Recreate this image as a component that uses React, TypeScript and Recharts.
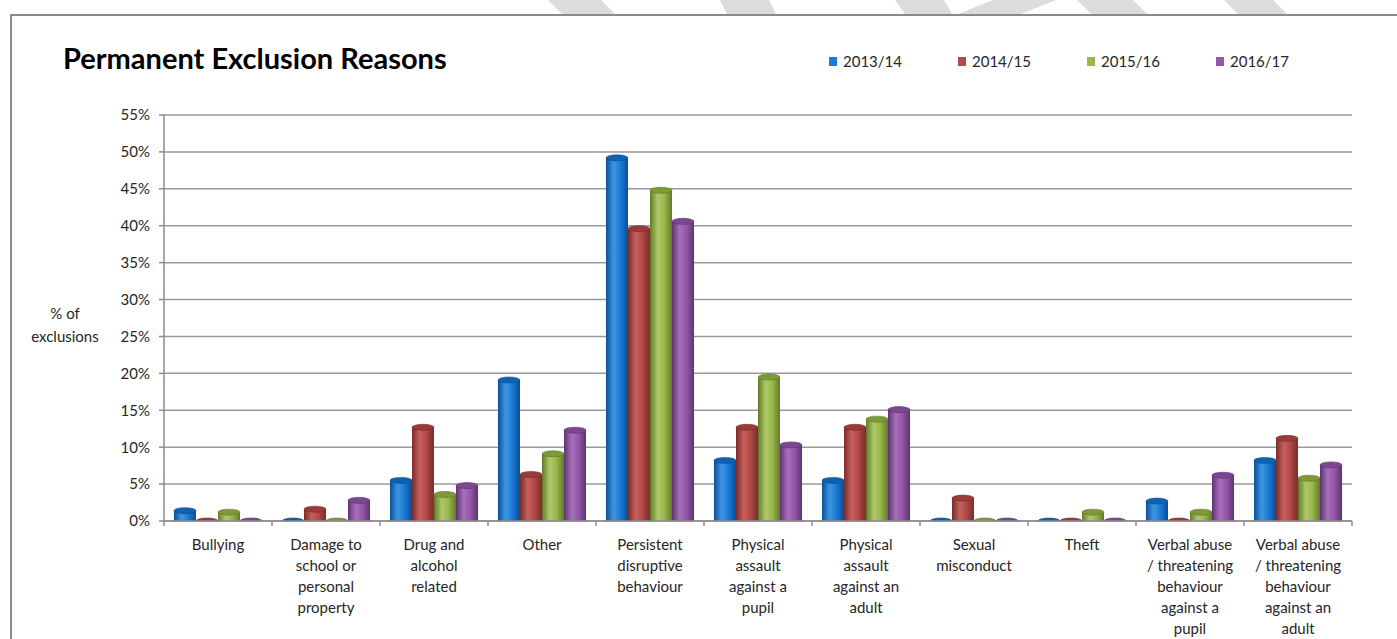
import React from "react";
import { BarChart, Bar, XAxis, YAxis, CartesianGrid } from "recharts";

const categories = [
  "Bullying",
  "Damage to school or personal property",
  "Drug and alcohol related",
  "Other",
  "Persistent disruptive behaviour",
  "Physical assault against a pupil",
  "Physical assault against an adult",
  "Sexual misconduct",
  "Theft",
  "Verbal abuse / threatening behaviour against a pupil",
  "Verbal abuse / threatening behaviour against an adult",
];

// how each category label wraps under the axis
const tickLines = [
  ["Bullying"],
  ["Damage to", "school or", "personal", "property"],
  ["Drug and", "alcohol", "related"],
  ["Other"],
  ["Persistent", "disruptive", "behaviour"],
  ["Physical", "assault", "against a", "pupil"],
  ["Physical", "assault", "against an", "adult"],
  ["Sexual", "misconduct"],
  ["Theft"],
  ["Verbal abuse", "/ threatening", "behaviour", "against a", "pupil"],
  ["Verbal abuse", "/ threatening", "behaviour", "against an", "adult"],
];

const y2013 = [1.4, 0, 5.5, 19.1, 49.2, 8.2, 5.5, 0, 0, 2.7, 8.2];
const y2014 = [0, 1.6, 12.7, 6.3, 39.6, 12.7, 12.7, 3.1, 0, 0, 11.2];
const y2015 = [1.2, 0, 3.6, 9.1, 44.8, 19.5, 13.8, 0, 1.2, 1.2, 5.8];
const y2016 = [0, 2.8, 4.8, 12.3, 40.6, 10.3, 15.1, 0, 0, 6.2, 7.6];

const yTicks = [0, 5, 10, 15, 20, 25, 30, 35, 40, 45, 50, 55];

const seriesNames = ["2013/14", "2014/15", "2015/16", "2016/17"];

const data = categories.map((c, i) => ({
  name: c,
  s1: y2013[i],
  s2: y2014[i],
  s3: y2015[i],
  s4: y2016[i],
}));

const colors = [
  { id: "blue", dark: "#0a4f96", mid: "#1b7bd6", light: "#3f95e4", top: "#0d62b4" },
  { id: "red", dark: "#7a2c2a", mid: "#b24a47", light: "#c6605d", top: "#993b39" },
  { id: "green", dark: "#627a27", mid: "#9ab84c", light: "#aec86a", top: "#7e9a36" },
  { id: "purple", dark: "#5e3470", mid: "#9557ab", light: "#a66fbb", top: "#7c4690" },
];

const FONT = "Lato, 'Open Sans', sans-serif";
const BAND = 108;

const cylinder = (c: (typeof colors)[number]) => (props: any) => {
  const { x, y, width, height } = props;
  if (x == null || y == null) return <g />;
  const cx = x + width / 2;
  const rx = width / 2;
  const ry = 3;
  return (
    <g>
      {height > 0 && (
        <rect x={x} y={y} width={width} height={height} fill={`url(#grad-${c.id})`} />
      )}
      <ellipse cx={cx} cy={y + height} rx={rx} ry={ry} fill={`url(#grad-${c.id})`} />
      <ellipse cx={cx} cy={y} rx={rx} ry={ry} fill={c.top} stroke={c.dark} strokeWidth={0.6} />
    </g>
  );
};

const CategoryTick = (props: any) => {
  const { x, y, index, payload } = props;
  const i = index ?? payload?.index ?? 0;
  const lines = tickLines[i] || [String(payload?.value)];
  const left = x - BAND / 2;
  return (
    <g>
      <line x1={left} y1={y - 8} x2={left} y2={y - 3} stroke="#8c8c8c" strokeWidth={1.5} />
      {i === categories.length - 1 && (
        <line x1={left + BAND} y1={y - 8} x2={left + BAND} y2={y - 3} stroke="#8c8c8c" strokeWidth={1.5} />
      )}
      <text x={x} y={y + 21} textAnchor="middle" fill="#262626" fontSize={15} fontFamily={FONT}>
        {lines.map((l, k) => (
          <tspan key={k} x={x} dy={k === 0 ? 0 : 21}>
            {l}
          </tspan>
        ))}
      </text>
    </g>
  );
};

// light grey watermark stripes peeking above the frame
const stripes = [
  [548, 601, 615, 562],
  [720, 769, 776, 727],
  [895, 944, 952, 905],
  [993, 1056, 1021, 958],
  [1077, 1133, 1147, 1091],
  [1224, 1273, 1287, 1238],
];

export default function App() {
  return (
    <div
      style={{
        position: "absolute",
        left: 0,
        top: 0,
        width: 1397,
        height: 639,
        background: "#fff",
        overflow: "hidden",
      }}
    >
      <svg width={1397} height={16} style={{ position: "absolute", left: 0, top: 0 }}>
        {stripes.map((s, i) => (
          <polygon key={i} points={`${s[0]},0 ${s[1]},0 ${s[2]},14 ${s[3]},14`} fill="#dcdcdc" />
        ))}
      </svg>
      <div
        style={{
          position: "absolute",
          left: 10,
          top: 14,
          width: 1400,
          height: 700,
          borderTop: "2px solid #8a8a8a",
          borderLeft: "2px solid #8a8a8a",
        }}
      />
      <div
        style={{
          position: "absolute",
          left: 63,
          top: 40,
          fontFamily: FONT,
          fontWeight: 700,
          fontSize: 29,
          color: "#000",
          whiteSpace: "nowrap",
        }}
      >
        Permanent Exclusion Reasons
      </div>
      <div
        style={{
          position: "absolute",
          left: 20,
          top: 302,
          width: 90,
          textAlign: "center",
          fontFamily: FONT,
          fontSize: 15,
          lineHeight: "23px",
          color: "#262626",
        }}
      >
        % of
        <br />
        exclusions
      </div>
      <div
        style={{
          position: "absolute",
          left: 829,
          top: 52,
          display: "flex",
          fontFamily: FONT,
          fontSize: 15,
          color: "#262626",
        }}
      >
        {seriesNames.map((n, i) => (
          <div key={n} style={{ display: "flex", alignItems: "center", width: 129 }}>
            <span
              style={{
                display: "inline-block",
                width: 8,
                height: 9,
                background: colors[i].mid,
                marginRight: 6,
              }}
            />
            {n}
          </div>
        ))}
      </div>
      <BarChart
        width={1397}
        height={639}
        data={data}
        margin={{ top: 115, right: 45, left: 0, bottom: 0 }}
        barCategoryGap={10}
        barGap={0}
        style={{ position: "absolute", left: 0, top: 0 }}
      >
        <defs>
          {colors.map((c) => (
            <linearGradient key={c.id} id={`grad-${c.id}`} x1="0" y1="0" x2="1" y2="0">
              <stop offset="0%" stopColor={c.dark} />
              <stop offset="35%" stopColor={c.light} />
              <stop offset="65%" stopColor={c.mid} />
              <stop offset="100%" stopColor={c.dark} />
            </linearGradient>
          ))}
        </defs>
        <CartesianGrid vertical={false} stroke="#9a9a9a" strokeWidth={1.5} />
        <XAxis
          dataKey="name"
          interval={0}
          height={118}
          axisLine={{ stroke: "#8c8c8c", strokeWidth: 1.5 }}
          tickLine={false}
          tick={<CategoryTick />}
        />
        <YAxis
          width={164}
          domain={[0, 55]}
          ticks={yTicks}
          interval={0}
          allowDataOverflow
          tickFormatter={(v: number) => `${v}%`}
          axisLine={{ stroke: "#8c8c8c", strokeWidth: 1.5 }}
          tickLine={{ stroke: "#8c8c8c", strokeWidth: 1.5 }}
          tickSize={5}
          tickMargin={9}
          tick={{ fill: "#262626", fontSize: 15, fontFamily: FONT }}
        />
        {colors.map((c, i) => (
          <Bar
            key={c.id}
            dataKey={`s${i + 1}`}
            name={seriesNames[i]}
            fill={c.mid}
            barSize={22}
            shape={cylinder(c)}
            isAnimationActive={false}
          />
        ))}
      </BarChart>
    </div>
  );
}
